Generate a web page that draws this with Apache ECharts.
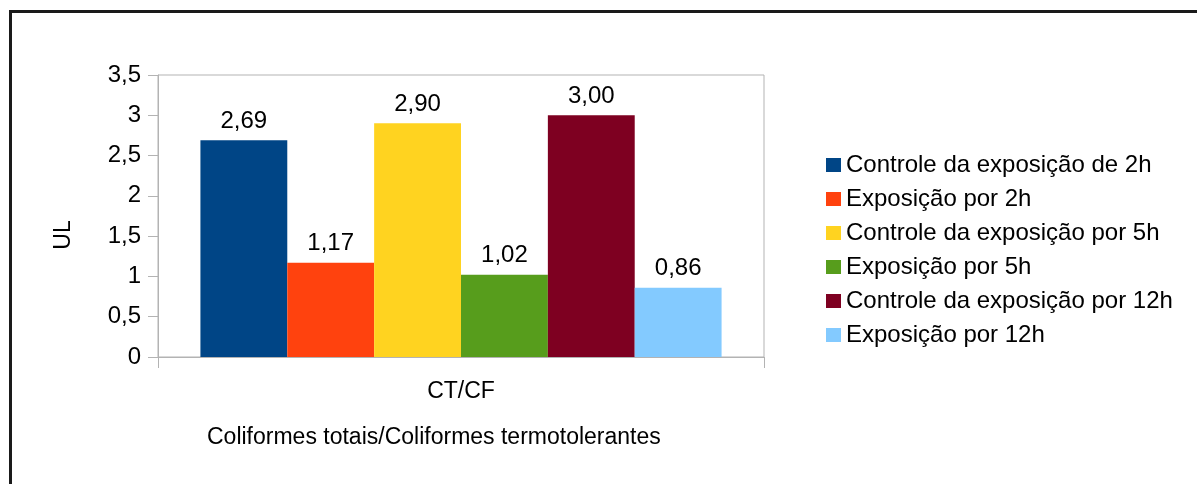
<!DOCTYPE html>
<html>
<head>
<meta charset="utf-8">
<script src="https://cdn.jsdelivr.net/npm/echarts@6/dist/echarts.min.js"></script>
<style>
html,body{margin:0;padding:0;background:#fff;}
#chart{width:1197px;height:484px;}
</style>
</head>
<body>
<div id="chart"></div>
<script>
var categories = ['CT/CF'];
var seriesNames = [
  'Controle da exposição de 2h',
  'Exposição por 2h',
  'Controle da exposição por 5h',
  'Exposição por 5h',
  'Controle da exposição por 12h',
  'Exposição por 12h'
];
var seriesValues = [2.69, 1.17, 2.90, 1.02, 3.00, 0.86];
var colors = ['#004586', '#ff420e', '#ffd320', '#579d1c', '#7e0021', '#83caff'];
var yTicks = [0, 0.5, 1, 1.5, 2, 2.5, 3, 3.5];
var yAxisName = 'UL';
var chartTitle = 'Coliformes totais/Coliformes termotolerantes';

var FONT = "'Liberation Sans', Arial, sans-serif";
var chart = echarts.init(document.getElementById('chart'));

var series = seriesNames.map(function (name, i) {
  return {
    name: name,
    type: 'bar',
    data: [seriesValues[i]],
    barGap: '0%',
    barCategoryGap: '14%',
    itemStyle: { color: colors[i] },
    label: {
      show: true,
      position: 'top',
      distance: 7,
      color: '#000',
      fontFamily: FONT,
      fontSize: 24,
      formatter: function (p) { return p.value.toFixed(2).replace('.', ','); }
    },
    emphasis: { disabled: true }
  };
});

chart.setOption({
  animation: false,
  color: colors,
  textStyle: { fontFamily: FONT },
  grid: {
    left: 158, right: 433, top: 75, bottom: 127,
    show: true, borderColor: '#b3b3b3', borderWidth: 1, backgroundColor: 'transparent'
  },
  legend: {
    orient: 'vertical',
    left: 821,
    top: 148,
    itemWidth: 15,
    itemHeight: 14,
    itemGap: 10,
    icon: 'rect',
    textStyle: { fontFamily: FONT, fontSize: 24, color: '#000', padding: [0, 0, 0, 0] },
    data: seriesNames
  },
  xAxis: {
    type: 'category',
    data: categories,
    axisLine: { lineStyle: { color: '#b3b3b3' } },
    axisTick: { show: true, length: 11, lineStyle: { color: '#b3b3b3' } },
    axisLabel: { color: '#000', fontFamily: FONT, fontSize: 23, margin: 23 }
  },
  yAxis: {
    type: 'value',
    min: yTicks[0],
    max: yTicks[yTicks.length - 1],
    interval: 0.5,
    splitLine: { show: false },
    axisLine: { show: true, lineStyle: { color: '#b3b3b3' } },
    axisTick: { show: true, length: 10, lineStyle: { color: '#b3b3b3' } },
    axisLabel: {
      color: '#000', fontFamily: FONT, fontSize: 24, margin: 17,
      formatter: function (v) { return String(v).replace('.', ','); }
    }
  },
  graphic: [
    { type: 'rect', shape: { x: 9, y: 10, width: 1188, height: 3 }, style: { fill: '#1a1a1a' }, silent: true },
    { type: 'rect', shape: { x: 9, y: 10, width: 3, height: 474 }, style: { fill: '#1a1a1a' }, silent: true },
    {
      type: 'text', x: 64, y: 235, rotation: Math.PI / 2,
      style: { text: yAxisName, font: '23px ' + FONT, fill: '#000', textAlign: 'center', textVerticalAlign: 'middle' },
      silent: true
    },
    {
      type: 'text', left: 207, top: 426,
      style: { text: chartTitle, font: '23px ' + FONT, fill: '#000' },
      silent: true
    }
  ],
  series: series
});
</script>
</body>
</html>
